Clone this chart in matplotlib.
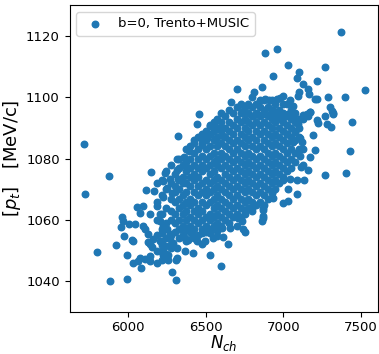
import numpy as np
from matplotlib import pyplot as plt

# points (sparse outer region)
outer_nch = [7371, 6882, 6960, 7033, 7100, 7087, 6936, 7270, 7216, 7130, 7158, 6861, 6704, 6812,
             7528, 7397, 7287, 7104, 7096, 7205, 7220, 7169, 7001, 6979, 6958, 6882, 6910, 7044,
             7061, 7023, 6663, 6740, 6458, 7302, 7313, 7323, 7270, 7173, 7152, 7130, 6936, 6915,
             6872, 6829, 6807, 6968, 7001, 7033, 7065,
             6441, 6527, 6560, 6596, 6323, 5714, 6467, 6506, 6560, 6613, 6424, 6474, 6394, 6362,
             6312, 5877, 5719, 6145, 6114, 6166, 6239, 6222, 6269, 6312, 6377, 6323, 6248, 6280,
             6226, 6054, 6097, 6076, 6183, 6140, 6205, 5957,
             6742, 7442, 7431, 7272, 7405, 7320, 7216, 7227, 7281, 7309, 7190, 7205, 7173, 7162,
             7130, 7113, 7134, 7087, 7044, 7087, 7033, 7001, 7033, 7001, 6936, 6926, 6872, 6753,
             6872, 7108, 7126, 7119, 7108, 7076, 7061, 7023, 7162, 7173, 7130, 7098,
             5796, 5882, 5990, 6308, 6280, 6596, 6525, 6642, 6614, 6420, 6366, 6312, 6312, 6308,
             6254, 6258, 6215, 6226, 6188, 6140, 6140, 6108, 6076, 6065, 6082, 6028, 5990, 5921,
             5972, 6022, 6032, 5951, 5964, 6006, 6043, 6097, 6108, 6129, 6140, 6151, 6129, 6161,
             6205, 6215, 6237, 6226, 6269, 6291, 6269, 6366, 6387, 6442, 6474, 6495, 6549, 6571,
             6334, 6387, 6409, 6474, 6527, 6571, 6603, 6657, 6700, 6742, 6753, 6732, 6710, 6861,
             6872, 6872, 6797, 6205, 6222, 6215, 6248, 6269]
outer_pt = [1121.4, 1114.4, 1115.9, 1110.5, 1108.2, 1106.4, 1107.1, 1109.8, 1105.4, 1104.5, 1102.8,
            1103.5, 1102.6, 1101.7, 1102.3, 1100.2, 1100.2, 1101.8, 1100.4, 1099.6, 1099.4, 1101.2,
            1100.6, 1099.9, 1099.6, 1099.4, 1099.0, 1099.0, 1097.2, 1097.7, 1098.5, 1095.6, 1094.5,
            1097.0, 1095.6, 1094.5, 1093.8, 1095.1, 1094.5, 1094.2, 1095.6, 1094.5, 1094.5, 1094.5,
            1093.8, 1094.0, 1093.5, 1094.5, 1093.8,
            1091.2, 1090.7, 1090.5, 1089.9, 1087.5, 1084.9, 1086.9, 1086.7, 1086.5, 1087.5, 1085.2,
            1084.5, 1082.4, 1080.7, 1079.8, 1074.2, 1068.6, 1075.5, 1069.8, 1069.5, 1075.2, 1072.7,
            1073.5, 1076.2, 1076.8, 1073.5, 1070.3, 1068.7, 1067.6, 1064.1, 1064.4, 1062.3, 1064.4,
            1061.9, 1061.9, 1060.9,
            1095.3, 1092.0, 1082.5, 1074.8, 1075.4, 1094.8, 1092.7, 1091.6, 1091.3, 1090.2, 1087.7,
            1082.7, 1080.5, 1076.2, 1077.8, 1077.3, 1073.0, 1073.0, 1073.5, 1068.4, 1070.1, 1073.0,
            1066.2, 1065.5, 1067.1, 1068.7, 1063.9, 1061.9, 1061.2, 1081.0, 1083.0, 1085.4, 1086.7,
            1088.6, 1085.6, 1088.1, 1094.0, 1095.1, 1092.9, 1091.3,
            1049.6, 1040.0, 1040.6, 1040.4, 1042.9, 1044.9, 1048.5, 1052.0, 1054.4, 1049.3, 1049.9,
            1050.7, 1047.7, 1046.9, 1046.9, 1048.5, 1049.4, 1048.6, 1045.8, 1048.3, 1046.7, 1047.2,
            1047.5, 1046.7, 1044.2, 1045.8, 1048.5, 1051.7, 1054.7, 1053.6, 1053.1, 1057.6, 1059.8,
            1058.7, 1058.7, 1058.0, 1056.9, 1055.5, 1052.0, 1051.2, 1052.8, 1053.9, 1053.1, 1051.8,
            1051.5, 1050.1, 1054.2, 1052.6, 1051.8, 1054.2, 1053.6, 1053.1, 1052.0, 1053.1, 1054.2,
            1054.7, 1056.9, 1056.6, 1055.3, 1055.8, 1055.8, 1056.4, 1057.4, 1057.4, 1058.0, 1056.9,
            1056.1, 1059.6, 1060.6, 1059.8, 1060.6, 1063.3, 1063.9, 1059.6, 1058.0, 1055.8, 1056.9,
            1055.5]

# dense core, estimated column by column
core_nch = [6185, 6215, 6245, 6275, 6300, 6325, 6350, 6375, 6400, 6425, 6450, 6475, 6500, 6525,
            6550, 6575, 6600, 6625, 6650, 6675, 6700, 6725, 6750, 6775, 6800, 6825, 6850, 6875,
            6900, 6925, 6950, 6975, 7000, 7025, 7050, 7075, 7100]
core_pt = [
    [1050, 1055, 1060, 1066, 1072],
    [1047, 1053, 1057, 1062, 1068, 1073],
    [1049, 1054, 1059, 1064, 1070, 1076],
    [1051, 1055, 1060, 1063, 1067, 1072, 1078],
    [1056, 1059, 1062, 1066, 1069, 1071, 1075],
    [1054, 1057, 1060, 1064, 1067, 1070, 1073, 1077, 1080],
    [1055, 1058, 1062, 1065, 1068, 1072, 1074, 1078],
    [1053, 1057, 1060, 1063, 1066, 1069, 1072, 1076, 1079, 1083],
    [1056, 1058, 1061, 1065, 1067, 1071, 1074, 1077, 1080, 1084],
    [1054, 1057, 1060, 1063, 1066, 1069, 1073, 1075, 1078, 1082, 1086],
    [1055, 1059, 1062, 1064, 1068, 1071, 1074, 1077, 1080, 1083, 1087],
    [1057, 1060, 1063, 1066, 1069, 1072, 1076, 1078, 1081, 1085, 1088],
    [1056, 1058, 1061, 1065, 1068, 1070, 1073, 1077, 1080, 1083, 1086, 1089],
    [1057, 1060, 1062, 1066, 1069, 1072, 1075, 1078, 1081, 1084, 1088, 1091],
    [1058, 1061, 1064, 1067, 1070, 1073, 1076, 1079, 1082, 1086, 1089, 1092],
    [1059, 1062, 1065, 1068, 1071, 1074, 1078, 1080, 1084, 1087, 1090, 1093],
    [1058, 1061, 1064, 1067, 1070, 1073, 1077, 1080, 1082, 1085, 1089, 1092, 1095],
    [1060, 1063, 1066, 1069, 1072, 1075, 1078, 1081, 1084, 1087, 1090, 1094],
    [1059, 1062, 1065, 1068, 1071, 1074, 1077, 1080, 1083, 1086, 1089, 1092, 1096],
    [1061, 1064, 1067, 1070, 1073, 1076, 1079, 1082, 1085, 1088, 1091, 1095],
    [1062, 1065, 1068, 1071, 1074, 1077, 1080, 1083, 1086, 1090, 1093, 1097],
    [1061, 1064, 1067, 1070, 1073, 1076, 1079, 1082, 1085, 1088, 1092, 1095, 1098],
    [1063, 1066, 1069, 1072, 1075, 1078, 1081, 1084, 1087, 1090, 1093, 1097],
    [1064, 1067, 1070, 1073, 1076, 1079, 1082, 1086, 1089, 1092, 1095, 1098],
    [1063, 1066, 1069, 1072, 1075, 1078, 1081, 1084, 1087, 1091, 1094, 1097, 1100],
    [1065, 1068, 1071, 1074, 1077, 1080, 1083, 1086, 1089, 1092, 1095, 1098],
    [1066, 1069, 1072, 1075, 1078, 1081, 1084, 1088, 1091, 1094, 1097, 1099],
    [1065, 1068, 1071, 1074, 1077, 1080, 1083, 1086, 1089, 1092, 1096, 1099],
    [1067, 1070, 1073, 1076, 1079, 1082, 1085, 1088, 1091, 1094, 1097],
    [1069, 1072, 1075, 1078, 1081, 1084, 1087, 1090, 1093, 1096, 1099],
    [1070, 1073, 1076, 1079, 1082, 1085, 1088, 1092, 1095, 1098],
    [1072, 1075, 1078, 1081, 1084, 1087, 1090, 1093, 1096],
    [1074, 1077, 1080, 1083, 1086, 1089, 1092, 1095, 1098],
    [1076, 1079, 1082, 1085, 1088, 1091, 1094],
    [1077, 1080, 1083, 1087, 1090, 1093, 1096],
    [1079, 1082, 1086, 1089, 1092, 1095],
    [1083, 1087, 1090, 1093],
]

nch = list(outer_nch)
pt = list(outer_pt)
for xc, ys in zip(core_nch, core_pt):
    nch += [xc] * len(ys)
    pt += ys

fig = plt.figure(figsize=(3.79, 3.54), dpi=100)
ax = fig.add_axes([0.1834, 0.119, 0.814, 0.8655])
ax.scatter(nch, pt, s=22, color='#1f77b4', label='b=0, Trento+MUSIC')
ax.set_xlim(5620, 7612)
ax.set_ylim(1030, 1130)
ax.set_xticks([6000, 6500, 7000, 7500])
ax.set_yticks([1040, 1060, 1080, 1100, 1120])
ax.tick_params(labelsize=9.5)
ax.tick_params(axis='x', pad=3)
ax.set_xlabel(r'$N_{ch}$', fontsize=12, labelpad=-1)
ax.set_ylabel(r'$[p_t]$   [MeV/c]', fontsize=13, labelpad=2)
ax.legend(loc='upper left', fontsize=9.5, handletextpad=0.8)

plt.savefig('out.png')
